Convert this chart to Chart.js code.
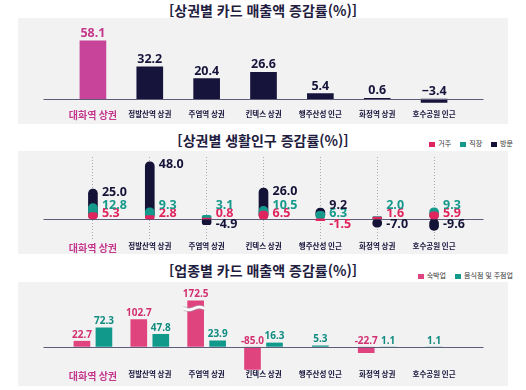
<!DOCTYPE html>
<html lang="ko">
<head>
<meta charset="utf-8">
<title>상권별 증감률</title>
<script src="https://cdn.jsdelivr.net/npm/chart.js@4.4.1/dist/chart.umd.min.js"></script>
<style>
  body { margin: 0; width: 526px; height: 390px; background: #fff; position: relative; overflow: hidden;
         font-family: "Noto Sans CJK KR", "Noto Sans", sans-serif; }
  .title { position: absolute; left: 0; width: 526px; text-align: center; font-weight: 700; font-size: 14px;
           line-height: 16px; color: #1f1d40; }
  .panel { position: absolute; left: 18px; width: 490px; background: #f2f2f3; }
  canvas { position: absolute; left: 18px; }
  .legend { position: absolute; right: 13px; display: flex; gap: 9px; font-size: 7px; line-height: 8px;
            color: #333; align-items: center; }
  .legend .box { display: inline-block; width: 6px; height: 5px; margin-right: 3px; vertical-align: middle; }
</style>
</head>
<body>
<div class="title" style="top:2px">[상권별 카드 매출액 증감률(%)]</div>
<div class="panel" style="top:18px;height:106px"></div>
<canvas id="salesChart" width="490" height="106" style="top:18px"></canvas>

<div class="title" style="top:132px">[상권별 생활인구 증감률(%)]</div>
<div class="legend" id="popLegend" style="top:139px"></div>
<div class="panel" style="top:151px;height:103px"></div>
<canvas id="popChart" width="490" height="103" style="top:151px"></canvas>

<div class="title" style="top:262px">[업종별 카드 매출액 증감률(%)]</div>
<div class="legend" id="bizLegend" style="top:271px"></div>
<div class="panel" style="top:282px;height:104px"></div>
<canvas id="bizChart" width="490" height="104" style="top:282px"></canvas>

<script>
// --- data ---
const areas = ['대화역 상권', '정발산역 상권', '주엽역 상권', '킨텍스 상권', '행주산성 인근', '화정역 상권', '호수공원 인근'];
const salesChange = [58.1, 32.2, 20.4, 26.6, 5.4, 0.6, -3.4];

const popSeries = ['거주', '직장', '방문'];
const residentChange = [5.3, 2.8, 0.8, 6.5, -1.5, 1.6, 5.9];
const workerChange = [12.8, 9.3, 3.1, 10.5, 6.3, 2.0, 9.3];
const visitorChange = [25.0, 48.0, -4.9, 26.0, 9.2, -7.0, -9.6];

const bizSeries = ['숙박업', '음식점 및 주점업'];
const lodgingChange = [22.7, 102.7, 172.5, -85.0, null, -22.7, null];
const foodChange = [72.3, 47.8, 23.9, 16.3, 5.3, 1.1, 1.1];

// --- colours ---
const HILITE = '#c4378c';
const NAVY = '#16143a';
const PANEL_BG = '#f2f2f3';
const POP_COLORS = ['#e0245e', '#14998b', '#141236'];
const BIZ_COLORS = ['#e0447e', '#119a8c'];
const BIZ_TEXT = ['#d2306f', '#108c80'];
const FONT_KR = '"Noto Sans CJK KR", sans-serif';
const FONT_NUM = '"Noto Sans", sans-serif';

function areaAxis(height, pad, showGrid) {
    return {
        offset: true,
        grid: showGrid
            ? { display: true, offset: false, drawTicks: false, color: '#a9a9b4', lineWidth: 1 }
            : { display: false, drawTicks: false },
        border: { display: false, dash: [1, 2] },
        ticks: {
            padding: pad,
            autoSkip: false,
            maxRotation: 0,
            color: c => c.index === 0 ? HILITE : NAVY,
            font: c => c.index === 0
                ? { family: FONT_KR, size: 10, weight: 'bold' }
                : { family: FONT_KR, size: 7.5, weight: 'bold' }
        },
        afterFit: s => { s.height = height; }
    };
}

// zero line that runs a bit past the category band
function zeroLine(hook) {
    return {
        id: 'zeroLine',
        [hook](chart) {
            const { ctx, chartArea } = chart;
            const y = Math.round(chart.scales.y.getPixelForValue(0)) + 0.5;
            ctx.save();
            ctx.strokeStyle = '#5e5c78';
            ctx.lineWidth = 1;
            ctx.beginPath();
            ctx.moveTo(chartArea.left - 21, y);
            ctx.lineTo(chartArea.right + 21, y);
            ctx.stroke();
            ctx.restore();
        }
    };
}

const fmt = (v, minus) => (v < 0 ? minus : '') + Math.abs(v).toFixed(1);

// labels above each bar
function topLabels(size, colorFor, minus, gap) {
    return {
        id: 'topLabels',
        afterDatasetsDraw(chart) {
            const ctx = chart.ctx;
            const base = chart.scales.y.getPixelForValue(0);
            ctx.save();
            ctx.font = `bold ${size}px ${FONT_NUM}`;
            ctx.textAlign = 'center';
            ctx.textBaseline = 'alphabetic';
            chart.data.datasets.forEach((ds, d) => {
                chart.getDatasetMeta(d).data.forEach((bar, i) => {
                    const v = ds.data[i];
                    if (v === null) return;
                    ctx.fillStyle = colorFor(d, i);
                    ctx.fillText(fmt(v, minus), bar.x, Math.min(bar.y, base) - gap);
                });
            });
            ctx.restore();
        }
    };
}

// labels beside the overlapping population bars
const popLabels = {
    id: 'popLabels',
    afterDatasetsDraw(chart) {
        const ctx = chart.ctx;
        const base = chart.scales.y.getPixelForValue(0);
        ctx.save();
        ctx.font = `bold 12.5px ${FONT_NUM}`;
        ctx.textAlign = 'left';
        ctx.textBaseline = 'middle';
        areas.forEach((a, i) => {
            const items = chart.data.datasets.map((ds, d) => ({
                v: ds.data[i], color: POP_COLORS[d], bar: chart.getDatasetMeta(d).data[i]
            }));
            const pos = items.filter(o => o.v >= 0).sort((p, q) => p.v - q.v);
            const neg = items.filter(o => o.v < 0).sort((p, q) => q.v - p.v);
            let y = base - 5;
            pos.forEach((o, k) => {
                if (k > 0) y = Math.min(y - 8.5, o.bar.y + 3);
                ctx.fillStyle = o.color;
                ctx.fillText(fmt(o.v, '-'), o.bar.x + 9, y);
            });
            y = base + 6;
            neg.forEach((o, k) => {
                if (k > 0) y += 8.5;
                ctx.fillStyle = o.color;
                ctx.fillText(fmt(o.v, '-'), o.bar.x + 9, y);
            });
        });
        ctx.restore();
    }
};

// wavy break across the tallest lodging bar
const breakMark = {
    id: 'breakMark',
    afterDatasetsDraw(chart) {
        const vals = chart.data.datasets[0].data;
        const top = Math.max(...vals.filter(v => v !== null));
        const bar = chart.getDatasetMeta(0).data[vals.indexOf(top)];
        const ctx = chart.ctx;
        const x0 = bar.x - 12, x1 = bar.x + 9, y0 = bar.y + 8;
        const wave = dy => {
            ctx.beginPath();
            for (let x = x0; x <= x1; x += 0.5) {
                const y = y0 + dy + 1.3 * Math.sin((x - x0) / (x1 - x0) * 2 * Math.PI);
                if (x === x0) ctx.moveTo(x, y); else ctx.lineTo(x, y);
            }
            ctx.stroke();
        };
        ctx.save();
        ctx.strokeStyle = '#ffffff';
        ctx.lineWidth = 3;
        wave(0);
        ctx.strokeStyle = '#a5a3b0';
        ctx.lineWidth = 0.7;
        wave(-1.8);
        wave(1.8);
        ctx.restore();
    }
};

const common = {
    responsive: false,
    animation: false,
    events: [],
    plugins: { legend: { display: false }, tooltip: { enabled: false } }
};

// --- chart 1: sales by area ---
new Chart(document.getElementById('salesChart'), {
    type: 'bar',
    data: {
        labels: areas,
        datasets: [{
            data: salesChange,
            backgroundColor: salesChange.map((v, i) => i === 0 ? '#c8449a' : NAVY),
            barThickness: 26
        }]
    },
    options: {
        ...common,
        layout: { padding: { top: 6, bottom: 0, left: 46.5, right: 45.5 } },
        scales: {
            x: areaAxis(18, 3.5, false),
            y: { display: false, min: -7, max: 75 }
        }
    },
    plugins: [zeroLine('afterDatasetsDraw'), topLabels(12.5, (d, i) => i === 0 ? HILITE : NAVY, '\u2212', 4)]
});

// --- chart 2: living population by area ---
const popData = [residentChange, workerChange, visitorChange];
document.getElementById('popLegend').innerHTML = popSeries.map((s, i) =>
    `<span><span class="box" style="background:${POP_COLORS[i]}"></span>${s}</span>`).join('');

new Chart(document.getElementById('popChart'), {
    type: 'bar',
    data: {
        labels: areas,
        datasets: popSeries.map((s, i) => ({
            label: s,
            data: popData[i],
            backgroundColor: POP_COLORS[i],
            grouped: false,
            barThickness: 9,
            borderRadius: 4.5,
            borderSkipped: false
        }))
    },
    options: {
        ...common,
        layout: { padding: { top: 6, bottom: 0, left: 46.5, right: 45.5 } },
        scales: {
            x: areaAxis(14, 2, true),
            y: { display: false, min: -17.7, max: 52 }
        }
    },
    plugins: [zeroLine('beforeDatasetsDraw'), popLabels]
});

// --- chart 3: sales by industry ---
const bizData = [lodgingChange, foodChange];
document.getElementById('bizLegend').innerHTML = bizSeries.map((s, i) =>
    `<span><span class="box" style="background:${BIZ_COLORS[i]}"></span>${s}</span>`).join('');

new Chart(document.getElementById('bizChart'), {
    type: 'bar',
    data: {
        labels: areas,
        datasets: bizSeries.map((s, i) => ({
            label: s,
            data: bizData[i],
            backgroundColor: BIZ_COLORS[i],
            borderColor: PANEL_BG,
            borderWidth: { left: 3, right: 3, top: 0, bottom: 0 },
            barThickness: 22
        }))
    },
    options: {
        ...common,
        skipNull: true,
        layout: { padding: { top: 4, bottom: 0, left: 46.5, right: 45.5 } },
        scales: {
            x: areaAxis(16, 0, false),
            y: { display: false, min: -86, max: 226 }
        }
    },
    plugins: [zeroLine('afterDatasetsDraw'), topLabels(10, d => BIZ_TEXT[d], '-', 3), breakMark]
});
</script>
</body>
</html>
